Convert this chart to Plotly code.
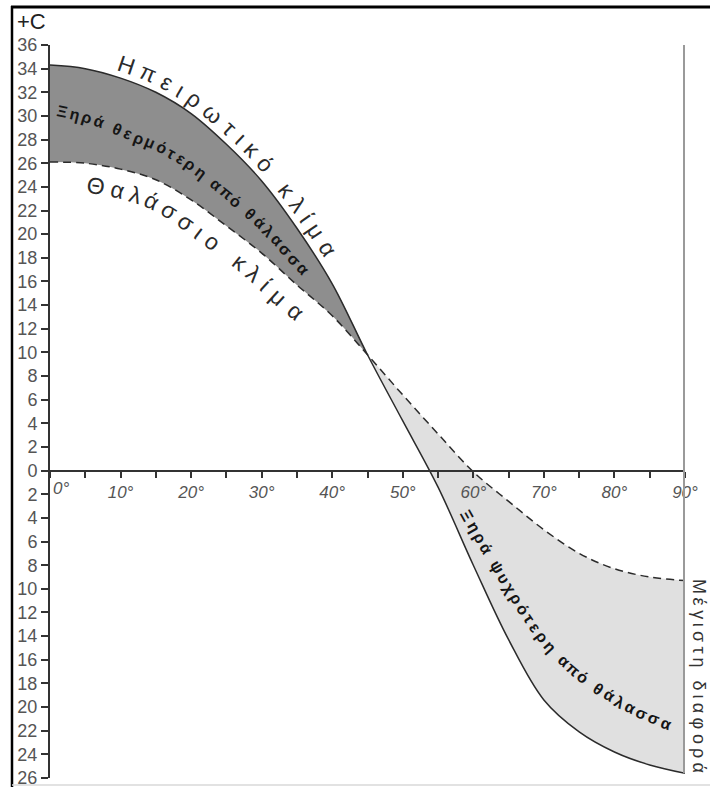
import numpy as np
import plotly.graph_objects as go

# ---------------- data ----------------
latitude = [0, 5, 10, 15, 20, 25, 30, 35, 40, 45, 50, 55, 60, 65, 70, 75, 80, 85, 90]
continental = [34.3, 34.0, 33.2, 32.0, 30.2, 27.6, 24.5, 20.5, 15.8, 9.8, 4.2, -1.4,
               -8.0, -14.3, -19.4, -22.1, -23.8, -24.9, -25.6]
marine = [26.1, 26.0, 25.5, 24.6, 22.9, 20.7, 18.4, 15.7, 13.1, 9.8, 6.4, 3.1,
          -0.1, -2.6, -5.0, -7.0, -8.3, -9.0, -9.3]
crossing_latitude = 45

y_tick_values = list(range(-26, 37, 2))
y_tick_text = [str(abs(v)) for v in y_tick_values]
x_tick_values = list(range(0, 91, 5))
x_tick_text = [(f"{v}°" if v > 0 else "") if v % 10 == 0 else "" for v in x_tick_values]
first_x_label = f"{x_tick_values[0]}°"

unit_label = "+C"
label_continental = "Ηπειρωτικό κλίμα"
label_marine = "Θαλάσσιο κλίμα"
label_warmer = "Ξηρά θερμότερη από θάλασσα"
label_colder = "Ξηρά ψυχρότερη από θάλασσα"
label_maxdiff = "Μέγιστη διαφορά"

# ---------------- layout constants ----------------
W, H = 710, 787
ML, MR, MT, MB = 50, 25, 45, 9
PW, PH = W - ML - MR, H - MT - MB
X_MIN, X_MAX = latitude[0], latitude[-1]
Y_MIN, Y_MAX = y_tick_values[0], y_tick_values[-1]

DARK = "#8e8e8e"
LIGHT = "#e0e0e0"
INK = "#2b2b2b"
TXT = "Liberation Sans"


def px_of(x):
    return ML + (np.asarray(x, float) - X_MIN) / (X_MAX - X_MIN) * PW


def py_of(y):
    return MT + (Y_MAX - np.asarray(y, float)) / (Y_MAX - Y_MIN) * PH


def paper_x(px):
    return (px - ML) / PW


def paper_y(py):
    return (MT + PH - py) / PH


def catmull(P, n=30):
    P = np.asarray(P, float)
    E = np.vstack([2 * P[0] - P[1], P, 2 * P[-1] - P[-2]])
    out = []
    t = np.linspace(0, 1, n, endpoint=False)[:, None]
    for i in range(1, len(E) - 2):
        p0, p1, p2, p3 = E[i - 1], E[i], E[i + 1], E[i + 2]
        out.append(0.5 * (2 * p1 + (-p0 + p2) * t + (2 * p0 - 5 * p1 + 4 * p2 - p3) * t ** 2
                          + (-p0 + 3 * p1 - 3 * p2 + p3) * t ** 3))
    out.append(P[-1:])
    return np.vstack(out)


solid_path = catmull(np.column_stack([px_of(latitude), py_of(continental)]))
dash_path = catmull(np.column_stack([px_of(latitude), py_of(marine)]))

WID = {'Η': .722, 'Θ': .778, 'Ξ': .667, 'Μ': .833, 'α': .578, 'ά': .578, 'γ': .5, 'δ': .556,
       'ε': .453, 'έ': .453, 'η': .556, 'θ': .556, 'ι': .222, 'ί': .222, 'κ': .5, 'λ': .5,
       'μ': .576, 'ο': .556, 'ό': .556, 'π': .6, 'ρ': .573, 'σ': .6, 'τ': .45, 'υ': .55,
       'φ': .72, 'χ': .5, 'ψ': .7, 'ω': .78, ' ': .278}

annotations = []


def place(path, text, start_px, offset, F, sp, color=INK, family=TXT, start_s=None,
          weight="normal", wscale=1.0):
    d = np.diff(path, axis=0)
    s = np.concatenate([[0], np.cumsum(np.hypot(d[:, 0], d[:, 1]))])
    s0 = np.interp(start_px, path[:, 0], s) if start_s is None else start_s
    cur = s0
    for i, ch in enumerate(text):
        if i > 0:
            cur += (WID.get(text[i - 1], .55) + WID.get(ch, .55)) / 2 * F * wscale + sp
        if ch == ' ':
            continue
        a = np.array([np.interp(cur - 6, s, path[:, 0]), np.interp(cur - 6, s, path[:, 1])])
        b = np.array([np.interp(cur + 6, s, path[:, 0]), np.interp(cur + 6, s, path[:, 1])])
        c = np.array([np.interp(cur, s, path[:, 0]), np.interp(cur, s, path[:, 1])])
        tdir = (b - a) / np.hypot(*(b - a))
        nrm = np.array([tdir[1], -tdir[0]])
        p = c + offset * nrm
        ang = float(np.degrees(np.arctan2(tdir[1], tdir[0])))
        annotations.append(dict(x=float(paper_x(p[0])), y=float(paper_y(p[1])),
                                xref="paper", yref="paper",
                                text=ch, showarrow=False, textangle=ang,
                                xanchor="center", yanchor="middle",
                                font=dict(family=family, size=F, color=color, weight=weight)))


# curve labels
place(solid_path, label_continental, 122, 14, 23, 7)
place(dash_path, label_marine, 99, -21, 23, 8)

# band labels: path through the band at a fraction between the two curves
fx = solid_path[:, 0]
lat_dense = X_MIN + (fx - ML) / PW * (X_MAX - X_MIN)
f_up = np.interp(lat_dense, [0, 12, 45], [0.45, 0.6, 0.6])
up_path = np.column_stack([fx, solid_path[:, 1] + f_up * (dash_path[:, 1] - solid_path[:, 1])])
mask = lat_dense <= crossing_latitude
place(up_path[mask], label_warmer, 62, 0, 16, 2.7, color="#151515", weight="bold", wscale=1.08)
f_lo = np.interp(lat_dense, [45, 59, 74, 90], [0.45, 0.42, 0.33, 0.22])
lo_path = np.column_stack([fx, solid_path[:, 1] + f_lo * (dash_path[:, 1] - solid_path[:, 1])])
mask = lat_dense >= crossing_latitude
place(lo_path[mask], label_colder, 467, 0, 16, 2.7, color="#151515", weight="bold", wscale=1.08)

# vertical label at the right
vx = 699
vpath = np.array([[vx, 500.0], [vx, 900.0]])
place(vpath, label_maxdiff, None, 0, 18, 4, color="#333", start_s=586 - 500)

annotations.append(dict(x=paper_x(31), y=paper_y(21), xref="paper", yref="paper",
                        text=unit_label, showarrow=False, xanchor="center", yanchor="middle",
                        font=dict(family=TXT, size=22, color="#222")))
annotations.append(dict(x=X_MIN, y=0, xref="x", yref="y", text=first_x_label, showarrow=False,
                        xanchor="left", yanchor="middle", xshift=1, yshift=-18,
                        font=dict(family=TXT, size=17, color="#555", style="italic")))

# ---------------- traces ----------------
k = latitude.index(crossing_latitude)
fig = go.Figure()
fig.add_trace(go.Scatter(x=latitude[:k + 1], y=marine[:k + 1], mode="lines",
                         line=dict(width=0, shape="spline"), hoverinfo="skip", showlegend=False))
fig.add_trace(go.Scatter(x=latitude[:k + 1], y=continental[:k + 1], mode="lines", fill="tonexty",
                         fillcolor=DARK, line=dict(width=0, shape="spline"), hoverinfo="skip",
                         showlegend=False))
fig.add_trace(go.Scatter(x=latitude[k:], y=marine[k:], mode="lines",
                         line=dict(width=0, shape="spline"), hoverinfo="skip", showlegend=False))
fig.add_trace(go.Scatter(x=latitude[k:], y=continental[k:], mode="lines", fill="tonexty",
                         fillcolor=LIGHT, line=dict(width=0, shape="spline"), hoverinfo="skip",
                         showlegend=False))
fig.add_trace(go.Scatter(x=latitude, y=continental, mode="lines", name="continental",
                         line=dict(color=INK, width=1.5, shape="spline"), showlegend=False))
fig.add_trace(go.Scatter(x=latitude, y=marine, mode="lines", name="marine",
                         line=dict(color=INK, width=1.5, shape="spline", dash="8px,5px"),
                         showlegend=False))

shapes = [
    dict(type="line", xref="x", yref="y", x0=X_MAX, x1=X_MAX, y0=continental[-1], y1=Y_MAX,
         line=dict(color="#9a9a9a", width=4), layer="above"),
    dict(type="line", xref="paper", yref="paper", x0=paper_x(12), x1=paper_x(12),
         y0=paper_y(6), y1=paper_y(H), line=dict(color="#000", width=2.5)),
    dict(type="line", xref="paper", yref="paper", x0=paper_x(11), x1=paper_x(W),
         y0=paper_y(7), y1=paper_y(7), line=dict(color="#000", width=3)),
    dict(type="line", xref="paper", yref="paper", x0=paper_x(12), x1=paper_x(W),
         y0=paper_y(785), y1=paper_y(785), line=dict(color="#d8d8d8", width=1.5)),
]

fig.update_layout(
    width=W, height=H,
    margin=dict(l=ML, r=MR, t=MT, b=MB, pad=0, autoexpand=False),
    paper_bgcolor="white", plot_bgcolor="white",
    showlegend=False,
    xaxis=dict(range=[X_MIN, X_MAX], anchor="free",
               position=(0 - Y_MIN) / (Y_MAX - Y_MIN),
               tickmode="array", tickvals=x_tick_values, ticktext=x_tick_text,
               ticks="outside", ticklen=6, tickwidth=1.5, tickcolor="#333",
               showline=True, linecolor="#333", linewidth=2, showgrid=False, zeroline=False,
               ticklabeloverflow="allow",
               tickfont=dict(family=TXT, size=17, color="#555", style="italic")),
    yaxis=dict(range=[Y_MIN, Y_MAX], tickmode="array", tickvals=y_tick_values,
               ticktext=y_tick_text, ticks="outside", ticklen=7, tickwidth=2, tickcolor="#333",
               showline=True, linecolor="#333", linewidth=2, showgrid=False, zeroline=False,
               ticklabeloverflow="allow",
               tickfont=dict(family=TXT, size=18, color="#555")),
    annotations=annotations,
    shapes=shapes,
)

fig.write_html("out.html", config={"displayModeBar": False},
               post_script="document.body.style.margin='0px';document.body.style.overflow='hidden';")
